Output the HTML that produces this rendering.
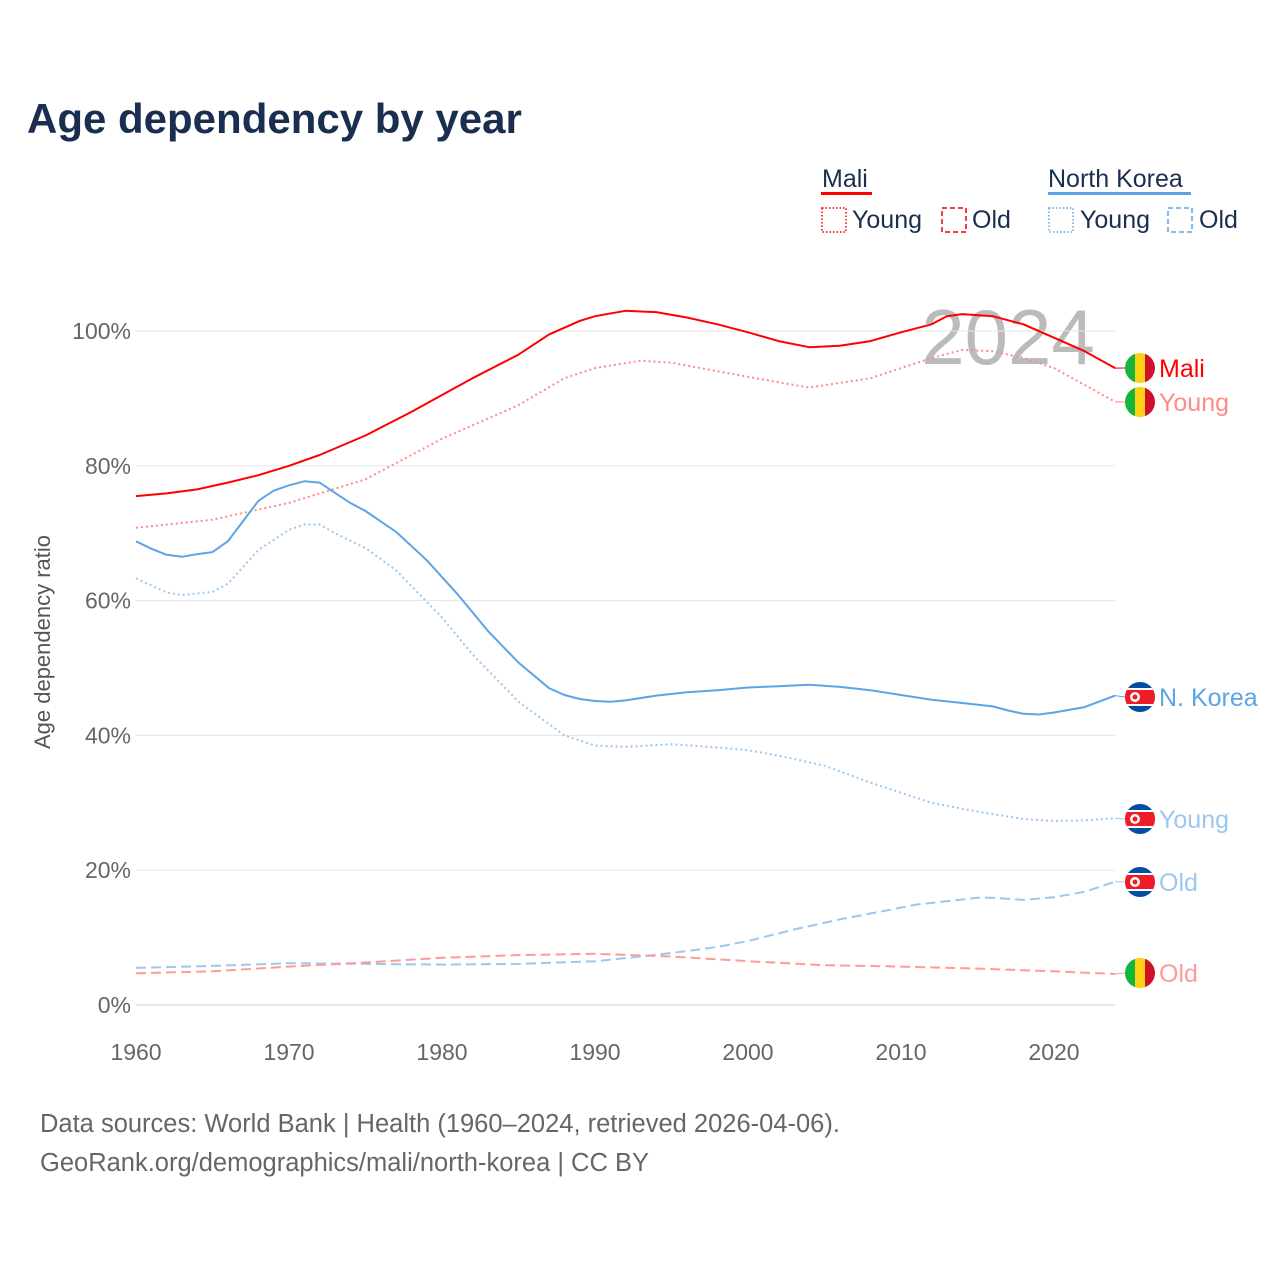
<!DOCTYPE html>
<html><head><meta charset="utf-8">
<style>
body{margin:0;background:#fff;width:1280px;height:1280px;overflow:hidden;font-family:"Liberation Sans",sans-serif;}
</style></head>
<body>
<svg id="chart" width="1280" height="1280" xmlns="http://www.w3.org/2000/svg">
<text x="27" y="133" font-size="42" font-weight="bold" fill="#1a2e4f">Age dependency by year</text>
<g font-size="25" fill="#1a2e4f">
 <text x="822" y="187">Mali</text>
 <rect x="821" y="192" width="51" height="3" fill="#f00"/>
 <rect x="822" y="208" width="24" height="24" fill="none" stroke="#e00" stroke-width="1.5" stroke-dasharray="1.5,2"/>
 <text x="852" y="228">Young</text>
 <rect x="942" y="208" width="24" height="24" fill="none" stroke="#e00" stroke-width="1.5" stroke-dasharray="5,3"/>
 <text x="972" y="228">Old</text>
 <text x="1048" y="187">North Korea</text>
 <rect x="1048" y="192" width="143" height="3" fill="#5ba4e6"/>
 <rect x="1049" y="208" width="24" height="24" fill="none" stroke="#5ba4e6" stroke-width="1.5" stroke-dasharray="1.5,2"/>
 <text x="1080" y="228">Young</text>
 <rect x="1168" y="208" width="24" height="24" fill="none" stroke="#5ba4e6" stroke-width="1.5" stroke-dasharray="5,3"/>
 <text x="1199" y="228">Old</text>
</g>
<text x="1008" y="364" font-size="78" fill="#bbb" text-anchor="middle">2024</text>
<g id="grid"></g>
<g id="series"></g>
<g id="labels"></g>
<text transform="translate(50,642) rotate(-90)" font-size="22" fill="#555" text-anchor="middle">Age dependency ratio</text>
<text x="40" y="1132" font-size="25.5" fill="#666">Data sources: World Bank | Health (1960–2024, retrieved 2026-04-06).</text>
<text x="40" y="1171" font-size="25.5" fill="#666">GeoRank.org/demographics/mali/north-korea | CC BY</text>
</svg>
<script>
const yTicks=[0,20,40,60,80,100];
const xTicks=[1960,1970,1980,1990,2000,2010,2020];
const maliTotalYears=[1960,1962,1964,1966,1968,1970,1972,1975,1978,1980,1982,1985,1987,1989,1990,1992,1994,1996,1998,2000,2002,2004,2006,2008,2010,2012,2013,2014,2016,2018,2020,2022,2024];
const maliTotal=[75.5,75.9,76.5,77.5,78.6,80,81.6,84.5,88,90.5,93,96.5,99.5,101.5,102.2,103,102.8,102,101,99.8,98.5,97.6,97.8,98.5,99.8,101,102.2,102.5,102.2,101,99,97,94.5];
const maliYoungYears=[1960,1965,1970,1975,1980,1985,1988,1990,1993,1995,2000,2004,2008,2012,2014,2016,2018,2020,2024];
const maliYoung=[70.8,72,74.5,78,84,89,93,94.5,95.6,95.3,93.2,91.6,93,96,97.2,97,96,94.5,89.5];
const maliOldYears=[1960,1965,1970,1975,1980,1985,1990,1995,2000,2005,2010,2015,2020,2024];
const maliOld=[4.7,5,5.7,6.3,7,7.4,7.6,7.2,6.5,5.9,5.7,5.4,5,4.6];
const nkTotalYears=[1960,1961,1962,1963,1964,1965,1966,1967,1968,1969,1970,1971,1972,1973,1974,1975,1977,1979,1981,1983,1985,1987,1988,1989,1990,1991,1992,1994,1996,1998,2000,2002,2004,2006,2008,2010,2012,2014,2016,2017,2018,2019,2020,2022,2024];
const nkTotal=[68.8,67.7,66.8,66.5,66.9,67.2,68.8,71.8,74.8,76.3,77.1,77.7,77.5,76,74.5,73.3,70.2,66,61,55.5,50.8,47,46,45.4,45.1,45,45.2,45.9,46.4,46.7,47.1,47.3,47.5,47.2,46.7,46,45.3,44.8,44.3,43.7,43.2,43.1,43.4,44.2,45.9];
const nkYoungYears=[1960,1962,1963,1965,1966,1968,1970,1971,1972,1973,1975,1977,1980,1982,1985,1988,1990,1992,1995,1998,2000,2002,2005,2008,2010,2012,2015,2018,2020,2022,2024];
const nkYoung=[63.3,61.2,60.8,61.3,62.5,67.5,70.5,71.3,71.3,70,67.8,64.5,57.5,52,45,40,38.5,38.3,38.7,38.2,37.8,37,35.5,33,31.5,30,28.7,27.6,27.3,27.4,27.7];
const nkOldYears=[1960,1965,1970,1975,1980,1985,1990,1993,1996,1998,2000,2003,2006,2009,2011,2013,2015,2016,2018,2020,2022,2024];
const nkOld=[5.5,5.8,6.2,6.1,6.0,6.1,6.5,7.2,8,8.6,9.5,11.2,12.7,14,14.9,15.4,15.9,15.9,15.6,16,16.8,18.3];

const NS="http://www.w3.org/2000/svg";
const X=y=>136+(y-1960)*15.3;
const Y=v=>1005-v*6.74;
function mk(t,a,p){const e=document.createElementNS(NS,t);for(const k in a)e.setAttribute(k,a[k]);p.appendChild(e);return e;}
const grid=document.getElementById('grid');
yTicks.forEach(t=>{
 const l=mk('line',{x1:136,x2:1115,y1:Y(t),y2:Y(t),stroke:t===0?'#ccc':'#e6e6e6','stroke-width':1},grid);
 
 
 const tx=mk('text',{x:131,y:Y(t)+8,'font-size':23,fill:'#666','text-anchor':'end'},grid);
 tx.textContent=t+'%';
 
 
});
xTicks.forEach(t=>{
 const tx=mk('text',{x:X(t),y:1060,'font-size':23,fill:'#666','text-anchor':'middle'},grid);
 tx.textContent=t;
 
 
});
const ser=document.getElementById('series');
function line(xs,vs,col,dash,name,w){
 const d=xs.map((x,i)=>(i?'L':'M')+X(x).toFixed(1)+','+Y(vs[i]).toFixed(1)).join('');
 const p=mk('path',{d:d,fill:'none',stroke:col,'stroke-width':w,'stroke-dasharray':dash,'stroke-linejoin':'round'},ser);
 
 
}
line(nkOldYears,nkOld,'#9cc7ef','10,5','line-nk-old',2);
line(maliOldYears,maliOld,'#ff9a9a','10,5','line-mali-old',2);
line(nkYoungYears,nkYoung,'#9cc7ef','2,3','line-nk-young',2);
line(maliYoungYears,maliYoung,'#ff8a8a','2,3','line-mali-young',2);
line(nkTotalYears,nkTotal,'#5ba4e6','','line-nk-total',2);
line(maliTotalYears,maliTotal,'#f00','','line-mali-total',2);

const lab=document.getElementById('labels');
function flag(cy,type){
 const cx=1140;
 const g=mk('g',{},lab);
 const id='c'+Math.round(cy);
 const cp=mk('clipPath',{id:id},g);mk('circle',{cx:cx,cy:cy,r:15},cp);
 const f=mk('g',{'clip-path':'url(#'+id+')'},g);
 if(type==='mali'){
  mk('rect',{x:cx-15,y:cy-15,width:10,height:30,fill:'#14b53a'},f);
  mk('rect',{x:cx-5,y:cy-15,width:10,height:30,fill:'#fcd116'},f);
  mk('rect',{x:cx+5,y:cy-15,width:10,height:30,fill:'#ce1126'},f);
 } else {
  mk('rect',{x:cx-15,y:cy-15,width:30,height:30,fill:'#024fa2'},f);
  mk('rect',{x:cx-15,y:cy-9,width:30,height:18,fill:'#fff'},f);
  mk('rect',{x:cx-15,y:cy-7,width:30,height:14,fill:'#ed1c27'},f);
  mk('circle',{cx:cx-5,cy:cy,r:5,fill:'#fff'},f);
  mk('circle',{cx:cx-5,cy:cy,r:2.5,fill:'#ed1c27'},f);
 }
 
 
}
function label(v,cy,txt,col,type,name){
 mk('line',{x1:1115,x2:1125,y1:Y(v),y2:cy,stroke:col,'stroke-width':1},lab);
 flag(cy,type);
 const t=mk('text',{x:1159,y:cy+9,'font-size':25,fill:col},lab);
 t.textContent=txt;
 
 
}
label(maliTotal[maliTotal.length-1],368,'Mali','#f00','mali','end-label-mali');
label(maliYoung[maliYoung.length-1],402,'Young','#ff8a8a','mali','end-label-mali-young');
label(nkTotal[nkTotal.length-1],697,'N. Korea','#5ba4e6','nk','end-label-nk');
label(nkYoung[nkYoung.length-1],819,'Young','#9cc7ef','nk','end-label-nk-young');
label(nkOld[nkOld.length-1],882,'Old','#9cc7ef','nk','end-label-nk-old');
label(maliOld[maliOld.length-1],973,'Old','#ff9a9a','mali','end-label-mali-old');
</script>
</body></html>
